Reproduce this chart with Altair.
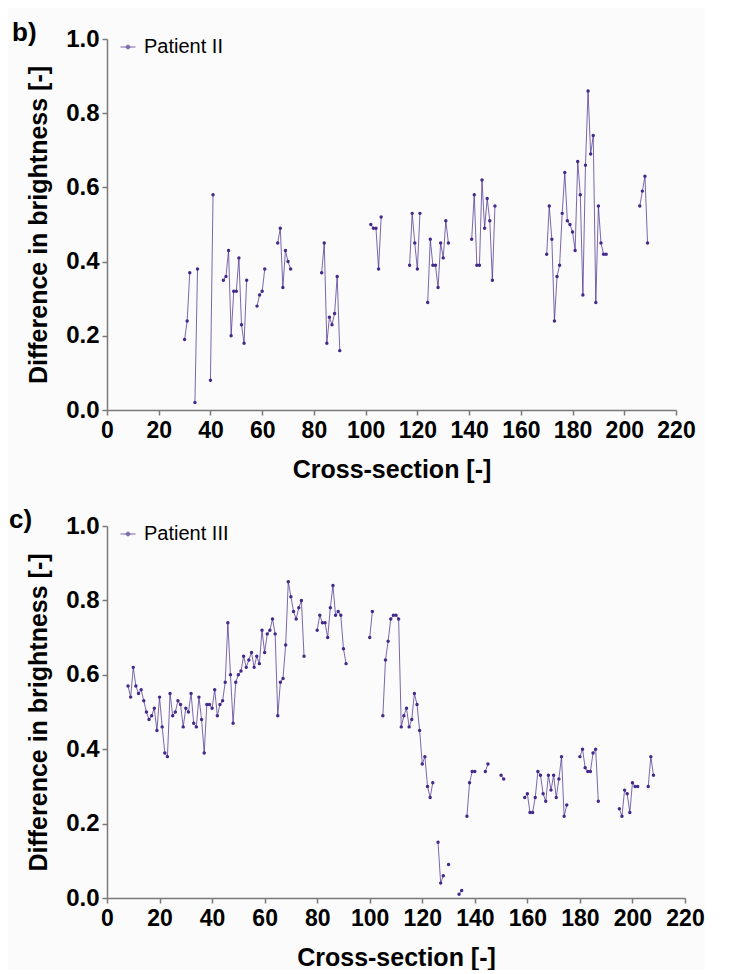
import altair as alt
import pandas as pd

# ---------------- data ----------------
b_x = [30, 31, 32, 34, 35, 40, 41, 45, 46, 47, 48, 49, 50, 51, 52, 53, 54,
       58, 59, 60, 61, 66, 67, 68, 69, 70, 71,
       83, 84, 85, 86, 87, 88, 89, 90,
       102, 103, 104, 105, 106,
       117, 118, 119, 120, 121, 124, 125, 126, 127, 128, 129, 130, 131, 132,
       141, 142, 143, 144, 145, 146, 147, 148, 149, 150,
       170, 171, 172, 173, 174, 175, 176, 177, 178, 179, 180, 181, 182, 183,
       184, 185, 186, 187, 188, 189, 190, 191, 192, 193,
       206, 207, 208, 209]
b_y = [0.19, 0.24, 0.37, 0.02, 0.38, 0.08, 0.58, 0.35, 0.36, 0.43, 0.20, 0.32, 0.32, 0.41, 0.23, 0.18, 0.35,
       0.28, 0.31, 0.32, 0.38, 0.45, 0.49, 0.33, 0.43, 0.40, 0.38,
       0.37, 0.45, 0.18, 0.25, 0.23, 0.26, 0.36, 0.16,
       0.50, 0.49, 0.49, 0.38, 0.52,
       0.39, 0.53, 0.45, 0.38, 0.53, 0.29, 0.46, 0.39, 0.39, 0.33, 0.45, 0.41, 0.51, 0.45,
       0.46, 0.58, 0.39, 0.39, 0.62, 0.49, 0.57, 0.51, 0.35, 0.55,
       0.42, 0.55, 0.46, 0.24, 0.36, 0.39, 0.53, 0.64, 0.51, 0.50, 0.48, 0.43, 0.67, 0.58,
       0.31, 0.66, 0.86, 0.69, 0.74, 0.29, 0.55, 0.45, 0.42, 0.42,
       0.55, 0.59, 0.63, 0.45]

c_x = list(range(8, 76)) + list(range(80, 92)) + [100, 101] + list(range(105, 125)) + \
      [126, 127, 128, 130, 134, 135, 137, 138, 139, 140, 144, 145, 150, 151] + \
      list(range(159, 176)) + list(range(180, 188)) + list(range(195, 203)) + [206, 207, 208]
c_y = [0.57, 0.54, 0.62, 0.57, 0.55, 0.56, 0.53, 0.50, 0.48, 0.49, 0.51, 0.45, 0.54, 0.46, 0.39, 0.38,
       0.55, 0.49, 0.50, 0.53, 0.52, 0.46, 0.51, 0.50, 0.55, 0.47, 0.46, 0.54, 0.48, 0.39, 0.52, 0.52,
       0.51, 0.56, 0.49, 0.52, 0.53, 0.58, 0.74, 0.60, 0.47, 0.58, 0.60, 0.61, 0.65, 0.62, 0.64, 0.66,
       0.62, 0.65, 0.63, 0.72, 0.66, 0.71, 0.72, 0.75, 0.71, 0.49, 0.58, 0.59, 0.68, 0.85, 0.81, 0.77,
       0.75, 0.78, 0.80, 0.65,
       0.72, 0.76, 0.74, 0.74, 0.70, 0.78, 0.84, 0.76, 0.77, 0.76, 0.67, 0.63,
       0.70, 0.77,
       0.49, 0.64, 0.69, 0.75, 0.76, 0.76, 0.75, 0.46, 0.49, 0.51, 0.46, 0.48, 0.55, 0.52, 0.45, 0.36,
       0.38, 0.30, 0.27, 0.31,
       0.15, 0.04, 0.06, 0.09, 0.01, 0.02, 0.22, 0.31, 0.34, 0.34, 0.34, 0.36, 0.33, 0.32,
       0.27, 0.28, 0.23, 0.23, 0.27, 0.34, 0.33, 0.28, 0.26, 0.33, 0.29, 0.33, 0.27, 0.32, 0.38, 0.22, 0.25,
       0.38, 0.40, 0.35, 0.34, 0.34, 0.39, 0.40, 0.26,
       0.24, 0.22, 0.29, 0.28, 0.23, 0.31, 0.30, 0.30,
       0.30, 0.38, 0.33]

x_ticks = list(range(0, 221, 20))
y_ticks = [0.0, 0.2, 0.4, 0.6, 0.8, 1.0]

# ---------------- style ----------------
DOT = "#44288a"
SANS = "'Liberation Sans', Arial, sans-serif"
SYMBOL = "M-1,0L1,0M-0.25,0a0.25,0.25 0 1,0 0.5,0a0.25,0.25 0 1,0 -0.5,0"


def segments(xs):
    seg, out, prev = 0, [], None
    for x in xs:
        if prev is not None and x - prev > 1:
            seg += 1
        out.append(seg)
        prev = x
    return out


def panel(xs, ys, name, tag, w, h, tag_dx):
    df = pd.DataFrame({"x": xs, "y": ys, "seg": segments(xs), "series": name})
    xenc = alt.X("x:Q", scale=alt.Scale(domain=[0, 220], nice=False, zero=False),
                 axis=alt.Axis(values=x_ticks, format="d", title="Cross-section [-]",
                               titlePadding=15, labelFontSize=23, labelOverlap=False,
                               labelFlush=False, labelPadding=4))
    yenc = alt.Y("y:Q", scale=alt.Scale(domain=[0, 1], nice=False),
                 axis=alt.Axis(values=y_ticks, format=".1f", labelFontSize=24,
                               labelOverlap=False, labelFlush=False, labelPadding=3,
                               title="Difference in brightness [-]", titlePadding=14))
    color = alt.Color("series:N", scale=alt.Scale(range=[DOT]),
                      legend=alt.Legend(title=None, orient="none", legendX=11, legendY=-2,
                                        symbolType=SYMBOL, symbolSize=225,
                                        symbolStrokeWidth=1, symbolStrokeColor=DOT,
                                        symbolFillColor=DOT,
                                        labelFont=SANS, labelFontSize=20,
                                        labelColor="black", labelOffset=6))
    base = alt.Chart(df)
    line = base.mark_line(strokeWidth=1, opacity=0.7).encode(
        x=xenc, y=yenc, detail="seg:N", color=color)
    pts = base.mark_circle(size=12, opacity=1).encode(x=xenc, y=yenc, color=color)
    tag_layer = alt.Chart(pd.DataFrame({"t": [tag]})).mark_text(
        font=SANS, fontSize=26, fontWeight="bold", align="left",
        baseline="alphabetic", color="black").encode(
        text="t:N", x=alt.value(tag_dx), y=alt.value(2))
    return alt.layer(line, pts, tag_layer).properties(width=w, height=h)


pb = panel(b_x, b_y, "Patient II", "b)", 569, 371, -95)
pc = panel(c_x, c_y, "Patient III", "c)", 578, 372, -98)

chart = alt.vconcat(pb, pc, spacing=25).resolve_scale(color="independent").resolve_legend(
    color="independent").properties(
    padding={"left": 1, "top": 12, "right": 0, "bottom": 0},
    background="#fbfbfb",
).configure_view(stroke=None).configure_axis(
    grid=False, domainColor="#7a7a7a", domainWidth=1.5, tickColor="#7a7a7a",
    tickWidth=1.5, tickSize=5,
    labelFont=SANS, labelFontWeight="bold", labelColor="black",
    titleFont=SANS, titleFontSize=25, titleFontWeight="bold", titleColor="black",
)

chart.save("out.html", embed_options={"renderer": "svg", "actions": False})
